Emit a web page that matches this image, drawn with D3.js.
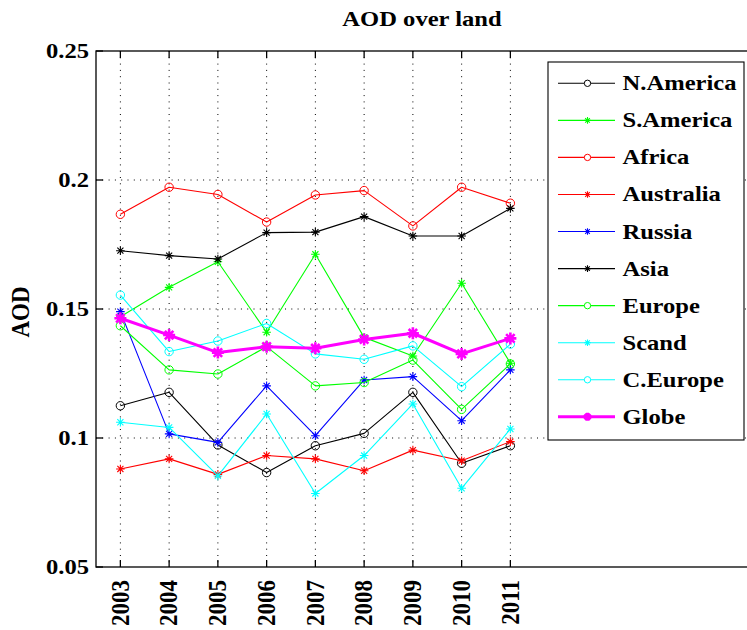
<!DOCTYPE html>
<html>
<head>
<meta charset="utf-8">
<script src="https://cdn.jsdelivr.net/npm/d3@7"></script>
<style>
  html, body { margin: 0; padding: 0; background: #fff; }
  svg { display: block; }
</style>
</head>
<body>
<svg id="chart" width="747" height="630"></svg>
<script>
// Yearly mean aerosol optical depth over land, by region
const years = [2003, 2004, 2005, 2006, 2007, 2008, 2009, 2010, 2011];
const yTicks = [0.05, 0.1, 0.15, 0.2, 0.25];
const yTickLabels = ["0.05", "0.1", "0.15", "0.2", "0.25"];

const nAmerica  = [0.1125, 0.1177, 0.0973, 0.0866, 0.0970, 0.1018, 0.1177, 0.0902, 0.0970];
const sAmerica  = [0.1470, 0.1584, 0.1683, 0.1410, 0.1712, 0.1390, 0.1318, 0.1600, 0.1290];
const africa    = [0.1867, 0.1972, 0.1944, 0.1837, 0.1942, 0.1959, 0.1822, 0.1972, 0.1910];
const australia = [0.0880, 0.0919, 0.0859, 0.0932, 0.0919, 0.0873, 0.0953, 0.0912, 0.0986];
const russia    = [0.1490, 0.1016, 0.0983, 0.1202, 0.1009, 0.1225, 0.1238, 0.1067, 0.1264];
const asia      = [0.1726, 0.1707, 0.1694, 0.1796, 0.1798, 0.1858, 0.1783, 0.1783, 0.1890];
const europe    = [0.1435, 0.1264, 0.1248, 0.1354, 0.1202, 0.1215, 0.1302, 0.1111, 0.1287];
const scand     = [0.1061, 0.1041, 0.0853, 0.1093, 0.0785, 0.0932, 0.1132, 0.0805, 0.1035];
const cEurope   = [0.1554, 0.1335, 0.1376, 0.1444, 0.1326, 0.1305, 0.1357, 0.1199, 0.1364];
const globe     = [0.1464, 0.1399, 0.1331, 0.1354, 0.1348, 0.1382, 0.1406, 0.1326, 0.1386];

const series = [
  { name: "N.America", values: nAmerica,  color: "#000000", marker: "circle" },
  { name: "S.America", values: sAmerica,  color: "#00ff00", marker: "star" },
  { name: "Africa",    values: africa,    color: "#ff0000", marker: "circle" },
  { name: "Australia", values: australia, color: "#ff0000", marker: "star" },
  { name: "Russia",    values: russia,    color: "#0000ff", marker: "star" },
  { name: "Asia",      values: asia,      color: "#000000", marker: "star" },
  { name: "Europe",    values: europe,    color: "#00ff00", marker: "circle" },
  { name: "Scand",     values: scand,     color: "#00ffff", marker: "star" },
  { name: "C.Europe",  values: cEurope,   color: "#00ffff", marker: "circle" },
  { name: "Globe",     values: globe,     color: "#ff00ff", marker: "star", bold: true }
];

const FONT = "Liberation Serif, DejaVu Serif, serif";
const svg = d3.select("#chart")
  .attr("font-family", FONT)
  .attr("font-weight", "bold");
const FS = 21;

function txt(g) {
  return g.append("text")
    .attr("font-family", FONT)
    .attr("font-weight", "bold")
    .attr("fill", "#000");
}

// Size the typeface horizontally so that "N.America" spans 114px
function measure(str, size) {
  const t = txt(svg).attr("font-size", size).text(str);
  const w = t.node().getComputedTextLength();
  t.remove();
  return w;
}
const SX = 114 / measure("N.America", FS);
const SL = 46 / measure("2003", FS);   // length factor for the vertical year labels

const plotLeft = 96, plotTop = 51, plotBottom = 567;
const x = d3.scaleLinear().domain([2002.5, 2016]).range([plotLeft, plotLeft + 13.5 * 48.75]);
const y = d3.scaleLinear().domain([0.05, 0.25]).range([plotBottom, plotTop]);
const plotRight = x(2016);

function hText(g, str, tx, ty, size, anchor, dy) {
  return txt(g.append("g").attr("transform", `translate(${tx},${ty}) scale(${SX},1)`))
    .attr("text-anchor", anchor)
    .attr("dy", dy || 0)
    .attr("font-size", size)
    .text(str);
}

// grid
const grid = svg.append("g").attr("stroke", "#000").attr("stroke-width", 1)
  .attr("stroke-dasharray", "1,5.3").attr("fill", "none");
years.forEach(yr => {
  grid.append("line").attr("x1", x(yr)).attr("x2", x(yr)).attr("y1", plotTop).attr("y2", plotBottom);
});
yTicks.slice(1, -1).forEach(v => {
  grid.append("line").attr("x1", plotLeft).attr("x2", plotRight).attr("y1", y(v)).attr("y2", y(v));
});

// axes box with inward ticks
const axis = svg.append("g").attr("stroke", "#000").attr("stroke-width", 1.3).attr("fill", "none");
axis.append("rect").attr("x", plotLeft).attr("y", plotTop)
  .attr("width", plotRight - plotLeft).attr("height", plotBottom - plotTop);
years.forEach(yr => {
  axis.append("line").attr("x1", x(yr)).attr("x2", x(yr)).attr("y1", plotBottom).attr("y2", plotBottom - 7);
  axis.append("line").attr("x1", x(yr)).attr("x2", x(yr)).attr("y1", plotTop).attr("y2", plotTop + 7);
});
yTicks.forEach(v => {
  axis.append("line").attr("x1", plotLeft).attr("x2", plotLeft + 7).attr("y1", y(v)).attr("y2", y(v));
});

// y tick labels
yTicks.forEach((v, i) => hText(svg, yTickLabels[i], 89, y(v), FS, "end", "0.34em"));

// x tick labels, vertical
years.forEach(yr => {
  txt(svg.append("g")
    .attr("transform", `translate(${x(yr)},580) rotate(-90) scale(${SL},${SX})`))
    .attr("text-anchor", "end")
    .attr("dy", "0.34em")
    .attr("font-size", FS)
    .text(String(yr));
});

// y axis title
txt(svg.append("g")
  .attr("transform", `translate(21,312) rotate(-90) scale(${SL},${SX})`))
  .attr("text-anchor", "middle").attr("dy", "0.34em")
  .attr("font-size", FS).text("AOD");

// chart title
hText(svg, "AOD over land", 422, 26, FS, "middle");

// markers
function starPath(r) {
  const d = r * 0.707;
  return `M${-r},0H${r}M0,${-r}V${r}M${-d},${-d}L${d},${d}M${-d},${d}L${d},${-d}`;
}
function drawMarker(g, s, cx, cy) {
  if (s.marker === "circle") {
    g.append("circle").attr("cx", cx).attr("cy", cy).attr("r", 4.2)
      .attr("fill", "none").attr("stroke", s.color).attr("stroke-width", 1);
  } else {
    const r = s.bold ? 6 : 4.3;
    g.append("path").attr("transform", `translate(${cx},${cy})`)
      .attr("d", starPath(r)).attr("fill", "none")
      .attr("stroke", s.color).attr("stroke-width", s.bold ? 2.6 : 1.1);
  }
}

const line = d3.line().x((d, i) => x(years[i])).y(d => y(d));
const plot = svg.append("g");
series.forEach(s => {
  const g = plot.append("g");
  g.append("path").datum(s.values).attr("d", line)
    .attr("fill", "none").attr("stroke", s.color)
    .attr("stroke-width", s.bold ? 3 : 1.1).attr("stroke-linejoin", "round");
  s.values.forEach((v, i) => drawMarker(g, s, x(years[i]), y(v)));
});

// legend
const lg = svg.append("g");
lg.append("rect").attr("x", 548).attr("y", 62).attr("width", 196).attr("height", 378)
  .attr("fill", "#fff").attr("stroke", "#000").attr("stroke-width", 1.1);
series.forEach((s, i) => {
  const ly = 83.3 + i * 37.06;
  lg.append("line").attr("x1", 558).attr("x2", 615).attr("y1", ly).attr("y2", ly)
    .attr("stroke", s.color).attr("stroke-width", s.bold ? 3 : 1.1);
  if (s.marker === "circle") {
    lg.append("circle").attr("cx", 587.5).attr("cy", ly).attr("r", 3.2)
      .attr("fill", "#fff").attr("stroke", s.color).attr("stroke-width", 1);
  } else {
    const r = s.bold ? 4 : 3.3;
    lg.append("path").attr("transform", `translate(587.5,${ly})`).attr("d", starPath(r))
      .attr("fill", "none").attr("stroke", s.color).attr("stroke-width", s.bold ? 3 : 1.1);
  }
  hText(lg, s.name, 622.5, ly + 7, FS, "start");
});
</script>
</body>
</html>
